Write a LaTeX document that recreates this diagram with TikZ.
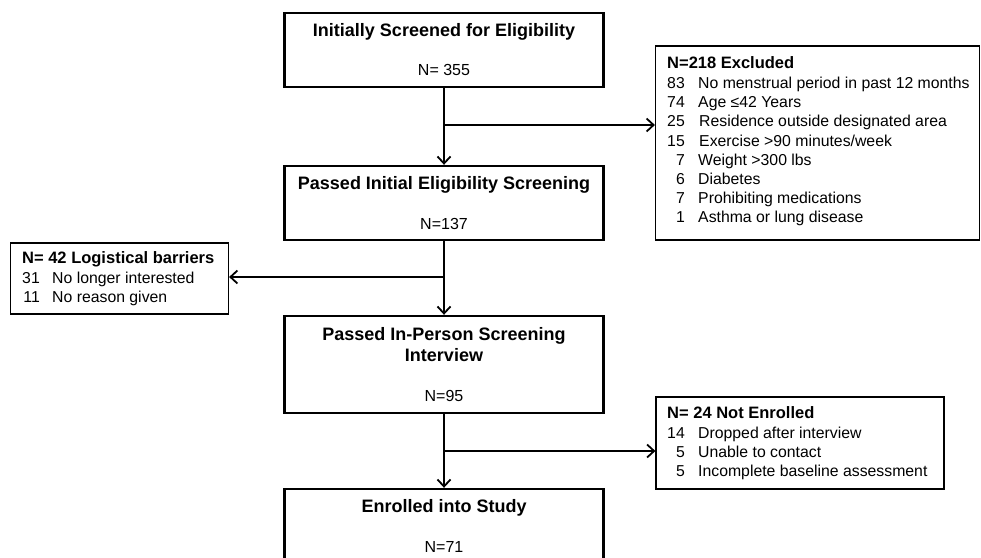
\documentclass[tikz,border=0pt]{standalone}
\usepackage{fontspec}
\setmainfont{Liberation Sans}
\usetikzlibrary{arrows.meta}
\tikzset{
  x=1pt, y=-1pt,
  mainbox/.style={draw, line width=2.4pt, minimum width=319pt, inner sep=0pt},
  sidebox/.style={draw, line width=1.2pt, inner sep=0pt},
  ttl/.style={anchor=base, inner sep=0pt, font=\fontsize{18}{21}\selectfont\bfseries},
  cnt/.style={anchor=base, inner sep=0pt, font=\fontsize{16}{19}\selectfont},
  hdr/.style={anchor=base west, inner sep=0pt, font=\fontsize{16.5}{19}\selectfont\bfseries},
  num/.style={anchor=base east, inner sep=0pt, font=\fontsize{15.8}{19}\selectfont},
  itm/.style={anchor=base west, inner sep=0pt, font=\fontsize{15.8}{19}\selectfont},
  conn/.style={line width=1.8pt},
  arr/.style={conn, -{Straight Barb[length=7pt,width=13pt,line width=1.8pt]}},
}
\begin{document}
\begin{tikzpicture}
\useasboundingbox (0,0) rectangle (981,557);
\clip (0,0) rectangle (981,557);
\fill[white] (0,0) rectangle (981,557);

% main boxes
\node[mainbox, minimum height=74pt] (b1) at (444,50) {};
\node[mainbox, minimum height=74pt] (b2) at (444,203) {};
\node[mainbox, minimum height=97pt] (b3) at (444,364.5) {};
\node[mainbox, minimum height=111pt] (b4) at (444,544.5) {};

\node[ttl] (t1) at (444,36.4) {Initially Screened for Eligibility};
\node[cnt] (n1) at (444,75.7) {N= 355};
\node[ttl] (t2) at (444,189.4) {Passed Initial Eligibility Screening};
\node[cnt] (n2) at (444,229.7) {N=137};
\node[ttl] (t3) at (444,340.4) {Passed In-Person Screening};
\node[ttl] (t3b) at (444,361.4) {Interview};
\node[cnt] (n3) at (444,401.7) {N=95};
\node[ttl] (t4) at (444,512.4) {Enrolled into Study};
\node[cnt] (n4) at (444,552.7) {N=71};

% side boxes
\node[sidebox, minimum width=324pt, minimum height=194pt] (ex) at (817.5,143) {};
\node[sidebox, minimum width=218pt, minimum height=71pt] (lb) at (119.5,278.5) {};
\node[sidebox, minimum width=288pt, minimum height=92pt] (ne) at (800,443) {};

% excluded
\node[hdr] (exh) at (667,68.9) {N=218 Excluded};
\node[num] (e1n) at (685,88.7) {83};   \node[itm] (e1) at (698,88.7) {No menstrual period in past 12 months};
\node[num] (e2n) at (685,107.8) {74};  \node[itm] (e2) at (698,107.8) {Age ≤42 Years};
\node[num] (e3n) at (685,126.9) {25};  \node[itm] (e3) at (699,126.9) {Residence outside designated area};
\node[num] (e4n) at (685,146.0) {15};  \node[itm] (e4) at (699,146.0) {Exercise >90 minutes/week};
\node[num] (e5n) at (685,165.1) {7};   \node[itm] (e5) at (698,165.1) {Weight >300 lbs};
\node[num] (e6n) at (685,184.2) {6};   \node[itm] (e6) at (698,184.2) {Diabetes};
\node[num] (e7n) at (685,203.3) {7};   \node[itm] (e7) at (698,203.3) {Prohibiting medications};
\node[num] (e8n) at (685,222.4) {1};   \node[itm] (e8) at (698,222.4) {Asthma or lung disease};

% logistical
\node[hdr] (lbh) at (22,263.9) {N= 42 Logistical barriers};
\node[num] (l1n) at (40,283.7) {31}; \node[itm] (l1) at (52,283.7) {No longer interested};
\node[num] (l2n) at (40,302.7) {11}; \node[itm] (l2) at (52,302.7) {No reason given};

% not enrolled
\node[hdr] (neh) at (667,418.9) {N= 24 Not Enrolled};
\node[num] (r1n) at (685,438.7) {14}; \node[itm] (r1) at (698,438.7) {Dropped after interview};
\node[num] (r2n) at (685,457.7) {5};  \node[itm] (r2) at (698,457.7) {Unable to contact};
\node[num] (r3n) at (685,476.7) {5};  \node[itm] (r3) at (698,476.7) {Incomplete baseline assessment};

% connectors
\coordinate (j1) at (444,125);
\coordinate (j2) at (444,277);
\coordinate (j3) at (444,451);
\draw[arr] (b1.south) -- (b2.north);
\draw[arr] (b2.south) -- (b3.north);
\draw[arr] (b3.south) -- (b4.north);
\draw[arr] (j1) -- (j1 -| ex.west);
\draw[arr] (j2) -- (j2 -| lb.east);
\draw[arr] (j3) -- (j3 -| ne.west);
\end{tikzpicture}
\end{document}
